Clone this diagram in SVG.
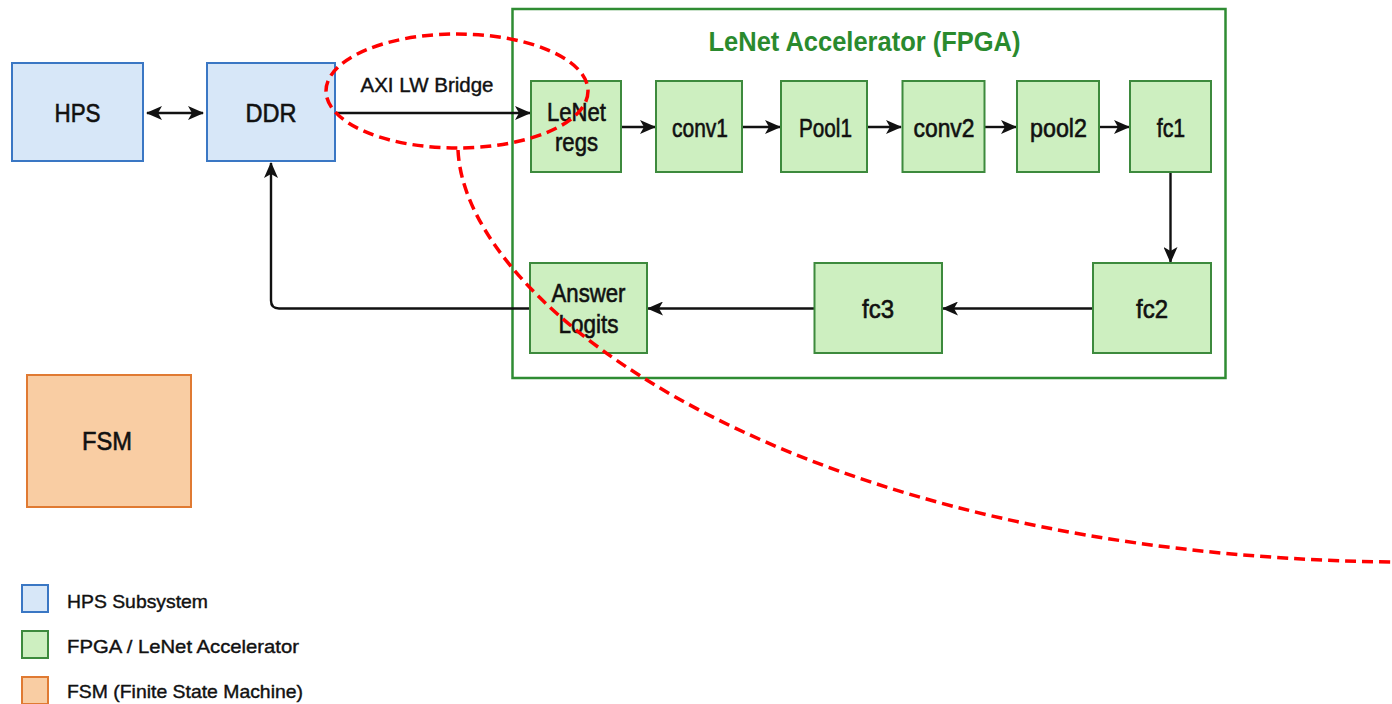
<svg xmlns="http://www.w3.org/2000/svg" width="1392" height="704" viewBox="0 0 1392 704">
<style>
.hps{fill:#d7e7f8;stroke:#3a77c4;stroke-width:2}
.fpga{fill:#cdefc0;stroke:#3d8a3d;stroke-width:2}
.fsm{fill:#f9cda3;stroke:#e07a32;stroke-width:2}
.cont{fill:none;stroke:#2f8c33;stroke-width:2.5}
.lbl{font-family:"Liberation Sans",Arial,sans-serif;font-size:26px;fill:#111;stroke:#111;stroke-width:0.6;text-anchor:middle}
.ttl{font-family:"Liberation Sans",Arial,sans-serif;font-size:28px;font-weight:bold;fill:#2a8a2e;text-anchor:middle}
.sm{font-family:"Liberation Sans",Arial,sans-serif;font-size:20px;fill:#111;stroke:#111;stroke-width:0.4;text-anchor:middle}
.leg{font-family:"Liberation Sans",Arial,sans-serif;font-size:19px;fill:#111;stroke:#111;stroke-width:0.4}
.ln{fill:none;stroke:#111;stroke-width:2.4}
.red{fill:none;stroke:#f00;stroke-width:3.5;stroke-dasharray:11 6}
</style>
<defs>
<marker id="ah" markerUnits="userSpaceOnUse" markerWidth="16" markerHeight="14" refX="15" refY="7" orient="auto-start-reverse">
<path d="M0,0 L16,7 L0,14 L4,7 Z" fill="#111"/>
</marker>
</defs>
<rect width="1392" height="704" fill="#fff"/>
<g id="container">
<rect class="cont" x="512.5" y="9" width="713" height="369"/>
<text class="ttl" x="864.5" y="51" textLength="312" lengthAdjust="spacingAndGlyphs">LeNet Accelerator (FPGA)</text>
</g>
<g id="connectors">
<line class="ln" x1="147" y1="113" x2="203" y2="113" marker-start="url(#ah)" marker-end="url(#ah)"/>
<line class="ln" x1="335" y1="113" x2="530" y2="113" marker-end="url(#ah)"/>
<text class="sm" x="427" y="91.5" textLength="133" lengthAdjust="spacingAndGlyphs">AXI LW Bridge</text>
<line class="ln" x1="621" y1="127" x2="655" y2="127" marker-end="url(#ah)"/>
<line class="ln" x1="742" y1="127" x2="780" y2="127" marker-end="url(#ah)"/>
<line class="ln" x1="867" y1="127" x2="901" y2="127" marker-end="url(#ah)"/>
<line class="ln" x1="984.5" y1="127" x2="1016" y2="127" marker-end="url(#ah)"/>
<line class="ln" x1="1099" y1="127" x2="1129" y2="127" marker-end="url(#ah)"/>
<line class="ln" x1="1170.5" y1="172" x2="1170.5" y2="262" marker-end="url(#ah)"/>
<line class="ln" x1="1093" y1="308.5" x2="943" y2="308.5" marker-end="url(#ah)"/>
<line class="ln" x1="814.5" y1="308.5" x2="648" y2="308.5" marker-end="url(#ah)"/>
<path class="ln" d="M530,308.5 H279 Q271,308.5 271,300.5 V163" marker-end="url(#ah)"/>
</g>
<g id="hps"><rect class="hps" x="12" y="63" width="131" height="98"/><text class="lbl" x="77.5" y="122" textLength="46" lengthAdjust="spacingAndGlyphs">HPS</text></g>
<g id="ddr"><rect class="hps" x="207" y="63" width="128" height="98"/><text class="lbl" x="271" y="122" textLength="51" lengthAdjust="spacingAndGlyphs">DDR</text></g>
<g id="lenet-regs"><rect class="fpga" x="531" y="81" width="90" height="91"/><text class="lbl" x="576.5" y="120.5" textLength="59" lengthAdjust="spacingAndGlyphs">LeNet</text><text class="lbl" x="576.5" y="150.5" textLength="43" lengthAdjust="spacingAndGlyphs">regs</text></g>
<g id="conv1"><rect class="fpga" x="656" y="81" width="86" height="91"/><text class="lbl" x="700" y="137" textLength="56" lengthAdjust="spacingAndGlyphs">conv1</text></g>
<g id="pool1"><rect class="fpga" x="781" y="81" width="86" height="91"/><text class="lbl" x="825.5" y="137" textLength="53" lengthAdjust="spacingAndGlyphs">Pool1</text></g>
<g id="conv2"><rect class="fpga" x="902.5" y="81" width="82" height="91"/><text class="lbl" x="944" y="137" textLength="61" lengthAdjust="spacingAndGlyphs">conv2</text></g>
<g id="pool2"><rect class="fpga" x="1017" y="81" width="82" height="91"/><text class="lbl" x="1058.5" y="137" textLength="57" lengthAdjust="spacingAndGlyphs">pool2</text></g>
<g id="fc1"><rect class="fpga" x="1130" y="81" width="81" height="91"/><text class="lbl" x="1171" y="137" textLength="28.5" lengthAdjust="spacingAndGlyphs">fc1</text></g>
<g id="fc2"><rect class="fpga" x="1093" y="263" width="118" height="90"/><text class="lbl" x="1152" y="318" textLength="32" lengthAdjust="spacingAndGlyphs">fc2</text></g>
<g id="fc3"><rect class="fpga" x="814.5" y="263" width="127.5" height="90"/><text class="lbl" x="878" y="318" textLength="32" lengthAdjust="spacingAndGlyphs">fc3</text></g>
<g id="answer-logits"><rect class="fpga" x="530" y="263" width="117" height="90"/><text class="lbl" x="588.5" y="302" textLength="74" lengthAdjust="spacingAndGlyphs">Answer</text><text class="lbl" x="588.5" y="333" textLength="60" lengthAdjust="spacingAndGlyphs">Logits</text></g>
<g id="fsm"><rect class="fsm" x="27" y="375" width="164" height="132"/><text class="lbl" x="107" y="450" textLength="50" lengthAdjust="spacingAndGlyphs">FSM</text></g>
<g id="legend">
<rect class="hps" x="22" y="585" width="26" height="27"/>
<text class="leg" x="67" y="608" textLength="141" lengthAdjust="spacingAndGlyphs">HPS Subsystem</text>
<rect class="fpga" x="22" y="631" width="26" height="27"/>
<text class="leg" x="67" y="653" textLength="232" lengthAdjust="spacingAndGlyphs">FPGA / LeNet Accelerator</text>
<rect class="fsm" x="22" y="677" width="26" height="27"/>
<text class="leg" x="67" y="698" textLength="236" lengthAdjust="spacingAndGlyphs">FSM (Finite State Machine)</text>
</g>
<g id="highlight">
<ellipse class="red" cx="457" cy="91" rx="131" ry="57"/>
<path class="red" d="M458,150 C465,310 800,555 1392,562"/>
</g>
</svg>
